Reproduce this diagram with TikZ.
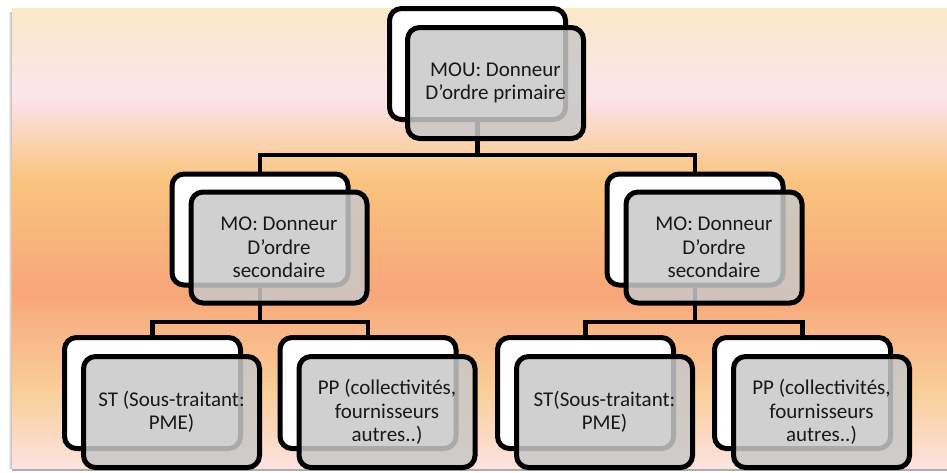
\documentclass[tikz,border=0pt]{standalone}
\usepackage{fontspec}
\setmainfont{Carlito}
\usetikzlibrary{calc}
\definecolor{bgA}{RGB}{250,232,200}
\definecolor{bgB}{RGB}{253,228,236}
\definecolor{bgC}{RGB}{249,196,126}
\definecolor{bgD}{RGB}{248,166,122}
\definecolor{bgE}{RGB}{249,206,152}
\definecolor{bgF}{RGB}{253,226,224}
\definecolor{boxgray}{RGB}{200,200,200}
\definecolor{txt}{RGB}{25,25,25}
\newcommand{\apos}{\char39\relax}
\tikzset{
  backbox/.style={draw=black, line width=5pt, rounded corners=12pt, fill=white,
    minimum width=176pt, minimum height=111pt, inner sep=0pt},
  frontbox/.style={draw=black, line width=5pt, rounded corners=12pt, fill=boxgray,
    fill opacity=0.85, draw opacity=1, text opacity=1, text=txt,
    minimum width=176pt, minimum height=111pt, inner sep=0pt, align=center,
    font=\fontsize{21}{23.5}\selectfont},
  conn/.style={draw=black, line width=4.5pt}
}
\begin{document}
\begin{tikzpicture}[x=1pt,y=-1pt]
\useasboundingbox (0,0) rectangle (947,472);
% background
\shade[left color=white, right color=black!30] (8,12) rectangle (12,468);
\fill[black!32] (12,468) rectangle (947,471);
\shade[top color=bgA, bottom color=bgB] (12,8) rectangle (947,97);
\shade[top color=bgB, bottom color=bgC] (12,96.5) rectangle (947,180);
\shade[top color=bgC, bottom color=bgD] (12,179.5) rectangle (947,293);
\shade[top color=bgD, bottom color=bgE] (12,292.5) rectangle (947,390);
\shade[top color=bgE, bottom color=bgF] (12,389.5) rectangle (947,468);
% back boxes
\node[backbox] (top-b) at (477.5,64) {};
\node[backbox] (ml-b) at (260,229.5) {};
\node[backbox] (mr-b) at (695,229.5) {};
\node[backbox] (stl-b) at (152.5,393) {};
\node[backbox] (ppl-b) at (368,393) {};
\node[backbox] (str-b) at (585.5,393) {};
\node[backbox] (ppr-b) at (802.5,393) {};
% connectors
\coordinate (j1) at (477.5,155);
\coordinate (j2) at (260,322);
\coordinate (j3) at (695,322);
\draw[conn] (top-b.south) -- (j1);
\draw[conn] (ml-b.north) |- (j1) -| (mr-b.north);
\draw[conn] (ml-b.south) -- (j2);
\draw[conn] (stl-b.north) |- (j2) -| (ppl-b.north);
\draw[conn] (mr-b.south) -- (j3);
\draw[conn] (str-b.north) |- (j3) -| (ppr-b.north);
% front boxes
\node[frontbox] (top-f) at ($(top-b)+(18,19)$) {MOU: Donneur\\D\apos ordre primaire};
\node[frontbox] (ml-f) at ($(ml-b)+(19,18)$) {MO: Donneur\\D\apos ordre\\secondaire};
\node[frontbox] (mr-f) at ($(mr-b)+(19,18)$) {MO: Donneur\\D\apos ordre\\secondaire};
\node[frontbox] (stl-f) at ($(stl-b)+(19,19)$) {ST (Sous-traitant:\\PME)};
\node[frontbox] (ppl-f) at ($(ppl-b)+(19,19)$) {PP (collectivités,\\fournisseurs\\autres..)};
\node[frontbox] (str-f) at ($(str-b)+(19,19)$) {ST(Sous-traitant:\\PME)};
\node[frontbox] (ppr-f) at ($(ppr-b)+(19,19)$) {PP (collectivités,\\fournisseurs\\autres..)};
\end{tikzpicture}
\end{document}
